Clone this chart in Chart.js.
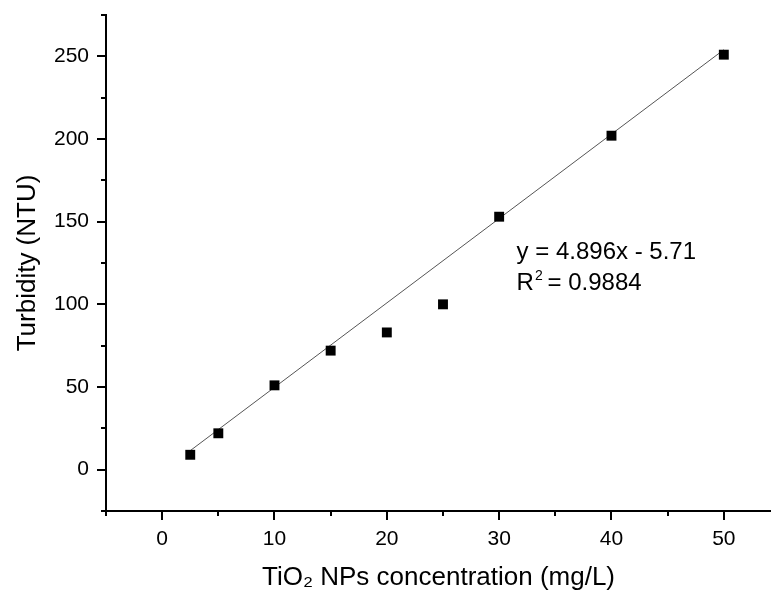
<!DOCTYPE html>
<html>
<head>
<meta charset="utf-8">
<script src="https://cdn.jsdelivr.net/npm/chart.js@4"></script>
<style>
  html, body { margin: 0; padding: 0; background: #fff; overflow: hidden; }
  canvas { display: block; }
</style>
</head>
<body>
<canvas id="turbChart" width="771" height="593"></canvas>
<script>
// measured points
const concX = [2.5, 5, 10, 15, 20, 25, 30, 40, 50];
const turbY = [9, 22, 51, 72, 83, 100, 153, 202, 251];
// fitted line as drawn (end points)
const fitX = [2.5, 50];
const fitY = [11.5, 254];
// axis ticks
const xMajor = [0, 10, 20, 30, 40, 50];
const xMinor = [-5, 5, 15, 25, 35, 45];
const yMajor = [0, 50, 100, 150, 200, 250];
const yMinor = [-25, 25, 75, 125, 175, 225, 275];
const eqLines = ['y = 4.896x - 5.71', 'R', ' = 0.9884'];

const FONT = '"Liberation Sans", Arial, sans-serif';

// draws tick marks (major long, minor short) and the fit equation
const extras = {
    id: 'extras',
    afterDraw(chart) {
        const c = chart.ctx;
        const xs = chart.scales.x, ys = chart.scales.y;
        c.save();
        c.strokeStyle = '#000';
        c.lineWidth = 2;
        c.beginPath();
        xMajor.forEach(v => { const p = Math.round(xs.getPixelForValue(v)); c.moveTo(p, xs.top); c.lineTo(p, xs.top + 9); });
        xMinor.forEach(v => { const p = Math.round(xs.getPixelForValue(v)); c.moveTo(p, xs.top); c.lineTo(p, xs.top + 5); });
        yMajor.forEach(v => { const p = Math.round(ys.getPixelForValue(v)); c.moveTo(ys.right, p); c.lineTo(ys.right - 9, p); });
        yMinor.forEach(v => { const p = Math.round(ys.getPixelForValue(v)); c.moveTo(ys.right, p); c.lineTo(ys.right - 5, p); });
        c.stroke();

        // equation text
        c.fillStyle = '#000';
        c.textBaseline = 'alphabetic';
        c.font = '24px ' + FONT;
        const ex = xs.getPixelForValue(31.55);
        c.fillText(eqLines[0], ex, ys.getPixelForValue(127.3));
        const by = ys.getPixelForValue(108.5);
        c.fillText(eqLines[1], ex, by);
        const rw = c.measureText(eqLines[1]).width;
        c.font = '14px ' + FONT;
        c.fillText('2', ex + rw + 1, by - 10);
        c.font = '24px ' + FONT;
        c.fillText(eqLines[2], ex + rw + 7, by);
        c.restore();
    }
};

const ctx = document.getElementById('turbChart').getContext('2d');
const turbChart = new Chart(ctx, {
    type: 'scatter',
    data: {
        datasets: [{
            label: 'Turbidity',
            data: concX.map((x, i) => ({ x: x, y: turbY[i] })),
            pointStyle: 'rect',
            pointRadius: 7,
            pointHoverRadius: 7,
            backgroundColor: '#000',
            borderColor: '#000',
            borderWidth: 0,
            showLine: false,
            order: 1
        }, {
            label: 'Fit',
            data: fitX.map((x, i) => ({ x: x, y: fitY[i] })),
            showLine: true,
            borderColor: '#555',
            borderWidth: 1,
            pointRadius: 0,
            fill: false,
            order: 2
        }]
    },
    options: {
        responsive: false,
        animation: false,
        layout: { autoPadding: false, padding: { top: 15, right: 0, left: 0, bottom: 0 } },
        plugins: {
            legend: { display: false },
            tooltip: { enabled: false }
        },
        scales: {
            x: {
                type: 'linear',
                min: -5,
                max: 54.2,
                afterBuildTicks: s => { s.ticks = xMajor.map(v => ({ value: v })); },
                afterFit: s => { s.height = 82; s.paddingLeft = 0; s.paddingRight = 0; },
                border: { display: true, color: '#000', width: 2 },
                grid: { drawOnChartArea: false, tickLength: 9, tickColor: 'rgba(0,0,0,0)' },
                ticks: { color: '#000', font: { family: FONT, size: 21 }, padding: 7, maxRotation: 0 },
                title: {
                    display: true,
                    text: 'TiO\u2082 NPs concentration (mg/L)',
                    color: '#000',
                    font: { family: FONT, size: 26 },
                    padding: { top: 7, bottom: 0 }
                }
            },
            y: {
                type: 'linear',
                min: -25,
                max: 275,
                afterBuildTicks: s => { s.ticks = yMajor.map(v => ({ value: v })); },
                afterFit: s => { s.width = 106; s.paddingTop = 0; s.paddingBottom = 0; },
                border: { display: true, color: '#000', width: 2 },
                grid: { drawOnChartArea: false, tickLength: 9, tickColor: 'rgba(0,0,0,0)' },
                ticks: { color: '#000', font: { family: FONT, size: 21 }, padding: 8 },
                title: {
                    display: true,
                    text: 'Turbidity (NTU)',
                    color: '#000',
                    font: { family: FONT, size: 26 },
                    padding: { top: 12, bottom: 0 }
                }
            }
        }
    },
    plugins: [extras]
});
</script>
</body>
</html>
